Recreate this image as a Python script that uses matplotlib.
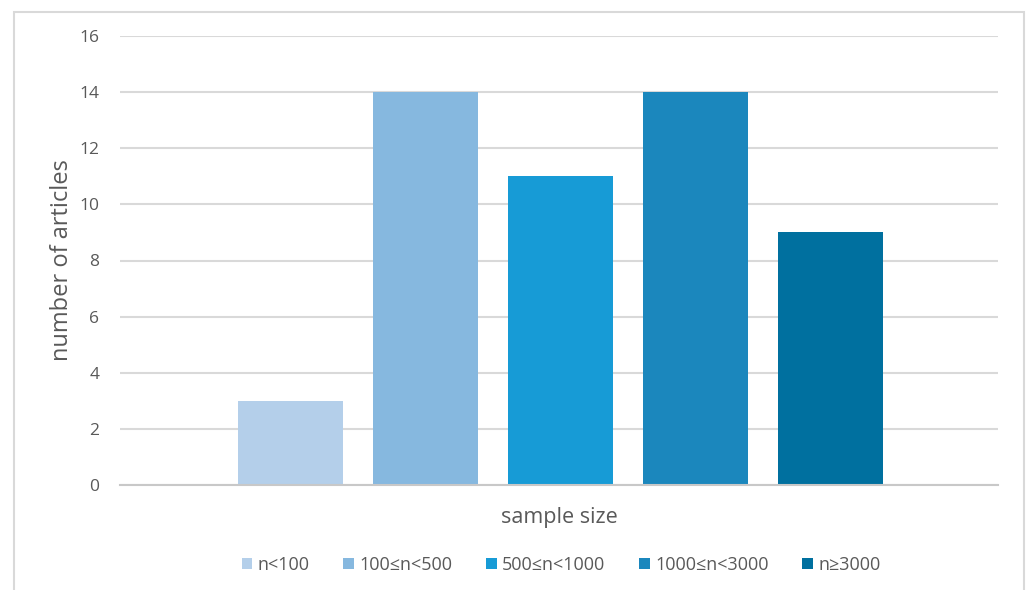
import matplotlib.pyplot as plt
from matplotlib.patches import Rectangle

groups = ["n<100", "100≤n<500", "500≤n<1000", "1000≤n<3000", "n≥3000"]
articles = [3, 14, 11, 14, 9]
colors = ["#b4cfea", "#86b8df", "#179bd6", "#1b87bd", "#00709f"]
yticks = [0, 2, 4, 6, 8, 10, 12, 14, 16]

plt.rcParams['font.family'] = ['Open Sans', 'DejaVu Sans']

fig = plt.figure(figsize=(10.29, 5.9), dpi=100)
ax = fig.add_axes([120 / 1029, 1 - 485 / 590, 878 / 1029, 449 / 590])

# chart frame around everything
fig.patches.append(Rectangle((14 / 1029, -0.01), 1010 / 1029, 1 - 12 / 590 + 0.01,
                             transform=fig.transFigure, fill=False,
                             edgecolor="#d9d9d9", linewidth=1.5))

handles = []
for i, (g, v, c) in enumerate(zip(groups, articles, colors)):
    h = ax.bar(i, v, width=105 / 135, color=c, label=g, zorder=3)
    handles.append(h)

ax.set_xlim(-170 / 135, 708 / 135)
ax.set_ylim(0, 16)
ax.set_yticks(yticks)
ax.set_xticks([])
ax.grid(axis="y", color="#d9d9d9", linewidth=1.5, zorder=0)
for s in ["top", "right", "left"]:
    ax.spines[s].set_visible(False)
ax.spines["bottom"].set_color("#c8c8c8")
ax.spines["bottom"].set_linewidth(1.5)
ax.spines["bottom"].set_zorder(4)
ax.tick_params(axis="y", length=0, pad=15, labelsize=12.5, labelcolor="#595959")

ax.set_ylabel("number of articles", fontsize=17, color="#595959", labelpad=4)
ax.set_xlabel("sample size", fontsize=15.5, color="#595959", labelpad=16)

leg = fig.legend(handles=handles, loc="center", bbox_to_anchor=(561 / 1029, 1 - 565 / 590),
                 ncol=5, frameon=False, fontsize=13, labelcolor="#595959",
                 handlelength=0.6, handleheight=0.6, handletextpad=0.3, columnspacing=1.85)

fig.savefig("out.png", dpi=100)
